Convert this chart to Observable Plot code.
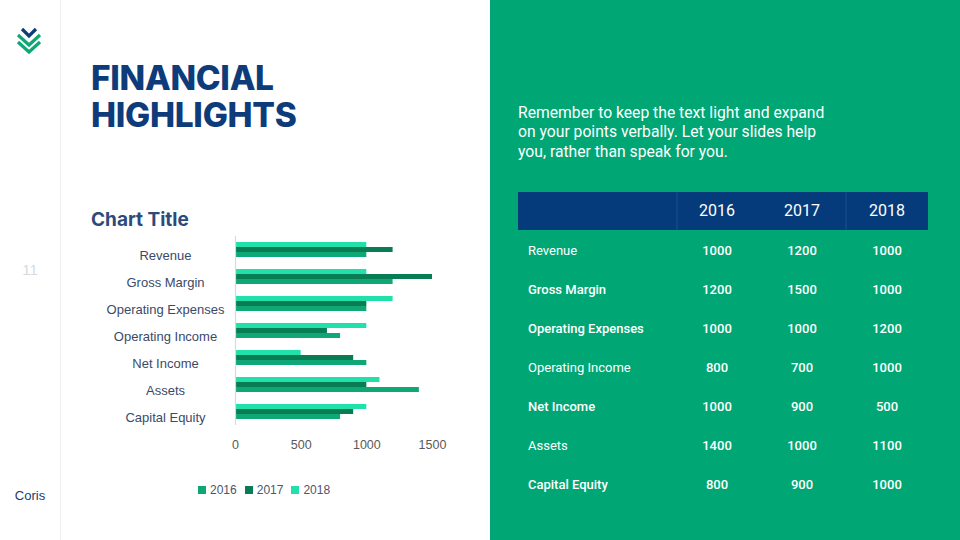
<!DOCTYPE html>
<html>
<head>
<meta charset="utf-8">
<script src="https://cdn.jsdelivr.net/npm/d3@7"></script>
<script src="https://cdn.jsdelivr.net/npm/@observablehq/plot@0.6"></script>
<style>
  html, body { margin:0; padding:0; background:#fff; }
  #slide { position:relative; width:960px; height:540px; overflow:hidden; background:#fff; font-family: Roboto, 'Liberation Sans', Arial, sans-serif; }
  .abs { position:absolute; }
  #sep { left:60px; top:0; width:1px; height:540px; background:#eeeeee; }
  #title { left:91px; top:60px; font-family: Inter, 'Open Sans', sans-serif; font-weight:800; font-size:33.5px; line-height:37px; color:#0e3c7a; letter-spacing:-0.3px; }
  #chartTitle { left:91px; top:208px; font-family: Inter, 'Open Sans', sans-serif; font-weight:700; font-size:19px; color:#2c4a7a; }
  #pagenum { left:0; width:60px; text-align:center; top:261px; font-size:15px; color:#d6dadf; font-family:'Liberation Sans', Arial, sans-serif; }
  #brand { left:0; width:60px; text-align:center; top:488px; font-size:13px; color:#1f3a66; font-family:'Liberation Sans', Arial, sans-serif; }
  #chart { left:80px; top:230px; }
  #legend { left:198px; top:483px; display:flex; gap:8px; font-family:'Liberation Sans', Arial, sans-serif; font-size:12px; color:#4a5670; }
  #legend span.item { display:flex; align-items:center; gap:4px; }
  #legend span.sw { display:inline-block; width:8px; height:8px; }
  #panel { left:490px; top:0; width:470px; height:540px; background:#00a674; }
  #para { left:518px; top:103px; color:#fff; font-size:15.7px; line-height:19.3px; font-family: Roboto, sans-serif; white-space:nowrap; }
  #thead { left:518px; top:192px; width:410px; height:38px; background:#063b7b; }
  .hcell { position:absolute; top:0; height:38px; line-height:38px; color:#fff; font-size:16px; text-align:center; width:84px; font-family: Roboto, sans-serif; }
  .hdiv { position:absolute; top:0; width:2px; height:38px; background:#0d4585; }
  .rlabel { position:absolute; color:#fff; font-size:13px; font-family: Roboto, sans-serif; transform:translateY(-50%); white-space:nowrap; }
  .rval { position:absolute; color:#fff; font-size:13px; font-weight:500; width:84px; text-align:center; font-family: Roboto, sans-serif; transform:translateY(-50%); white-space:nowrap; }
</style>
</head>
<body>
<div id="slide">
  <div id="sep" class="abs"></div>
  <svg class="abs" style="left:14px;top:26px" width="34" height="30" viewBox="0 0 34 30">
    <polyline points="8,3 15,10 22,3" fill="none" stroke="#0e3c7a" stroke-width="3.2"/>
    <polyline points="4,9 15,19 26,9" fill="none" stroke="#10a776" stroke-width="3.2"/>
    <polyline points="4,16 15,26 26,16" fill="none" stroke="#10a776" stroke-width="3.2"/>
  </svg>
  <div id="title" class="abs">FINANCIAL<br>HIGHLIGHTS</div>
  <div id="pagenum" class="abs">11</div>
  <div id="brand" class="abs">Coris</div>
  <div id="chartTitle" class="abs">Chart Title</div>
  <div id="chart" class="abs"></div>
  <div id="legend" class="abs"></div>
  <div id="panel" class="abs"></div>
  <div id="para" class="abs">Remember to keep the text light and expand<br>on your points verbally. Let your slides help<br>you, rather than speak for you.</div>
  <div id="thead" class="abs"></div>
  <div id="tbody" class="abs" style="left:0;top:0"></div>
</div>
<script>
const categories = ["Revenue","Gross Margin","Operating Expenses","Operating Income","Net Income","Assets","Capital Equity"];
const years = ["2016","2017","2018"];
const v2016 = [1000,1200,1000,800,1000,1400,800];
const v2017 = [1200,1500,1000,700,900,1000,900];
const v2018 = [1000,1000,1200,1000,500,1100,1000];
const xTicks = [0,500,1000,1500];
const yearColors = ["#10a776","#087c53","#22e0aa"];
const boldRows = [false,true,true,false,true,false,true];

const series = {"2016": v2016, "2017": v2017, "2018": v2018};
const rows = [];
categories.forEach((c,i) => years.forEach(y => rows.push({category:c, year:y, value:series[y][i]})));

const chart = Plot.plot({
  width: 380, height: 228,
  marginLeft: 155, marginRight: 28, marginTop: 6, marginBottom: 33,
  style: {fontFamily: "'Liberation Sans', Arial, sans-serif", fontSize: "12.5px", color: "#595959", background: "transparent"},
  x: {domain: [0,1500], ticks: xTicks, tickSize: 0, tickPadding: 15, label: null, tickFormat: d => String(d)},
  y: {domain: ["2018","2017","2016"], paddingInner: 0, paddingOuter: 0.79, axis: null},
  fy: {domain: categories, padding: 0, axis: null, label: null},
  color: {domain: years, range: yearColors},
  marks: [
    Plot.barX(rows, {x: "value", y: "year", fy: "category", fill: "year"}),
    Plot.ruleX([0], {stroke: "#d9d9d9", strokeWidth: 1.2}),
    Plot.text(categories, {fy: d => d, text: d => d, frameAnchor: "left", dx: -70, dy: 6, textAnchor: "middle", fill: "#3b4a68", fontSize: 13})
  ]
});
document.getElementById("chart").appendChild(chart);

// legend
const leg = document.getElementById("legend");
years.forEach((y,i) => {
  const it = document.createElement("span"); it.className = "item";
  const sw = document.createElement("span"); sw.className = "sw"; sw.style.background = yearColors[i];
  it.appendChild(sw); it.appendChild(document.createTextNode(y)); leg.appendChild(it);
});

// table
const head = document.getElementById("thead");
const colCenters = [717, 802, 887];
years.forEach((y,i) => {
  const c = document.createElement("div"); c.className = "hcell";
  c.style.left = (colCenters[i] - 42 - 518) + "px"; c.textContent = y; head.appendChild(c);
});
[676, 845].forEach(x => { const d = document.createElement("div"); d.className = "hdiv"; d.style.left = (x - 518) + "px"; head.appendChild(d); });
const body = document.getElementById("tbody");
categories.forEach((c,i) => {
  const yc = 250 + i*39;
  const l = document.createElement("div"); l.className = "rlabel"; l.style.left = "528px"; l.style.top = yc + "px";
  l.style.fontWeight = boldRows[i] ? "500" : "400"; l.textContent = c; body.appendChild(l);
  years.forEach((y,j) => {
    const v = document.createElement("div"); v.className = "rval";
    v.style.left = (colCenters[j] - 42) + "px"; v.style.top = yc + "px"; v.textContent = series[y][i]; body.appendChild(v);
  });
});
</script>
</body>
</html>
